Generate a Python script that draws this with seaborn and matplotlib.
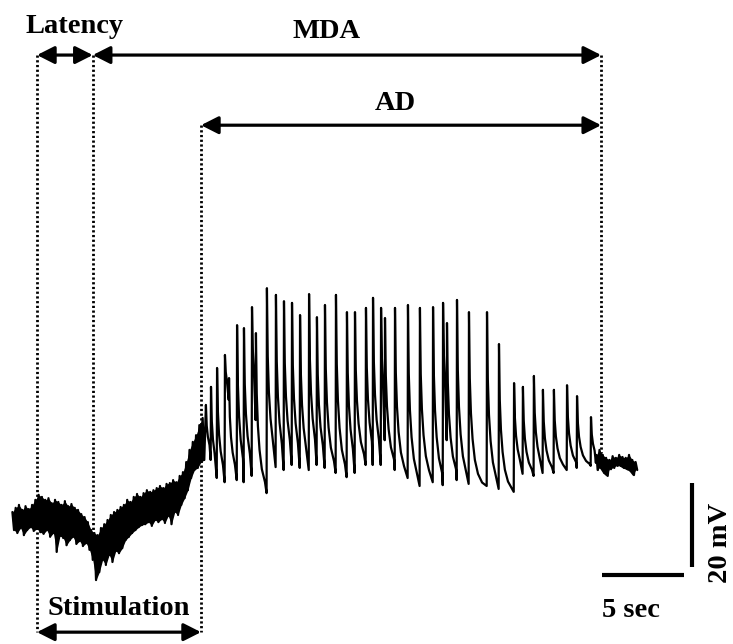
import numpy as np
import pandas as pd
import matplotlib
matplotlib.use("Agg")
import matplotlib.pyplot as plt
import seaborn as sns

# ---- event timing (s) ----
stim_on = 0.0
stim_off = 10.0
latency_end = 3.4
ad_end = 34.4

# ---- noisy baseline before / during stimulation (s, mV envelope) ----
band_t = [-1.5, -1.3, -1.1, -0.9, -0.7, -0.5, -0.3, -0.1, 0.1, 0.3, 0.5, 0.7,
          0.9, 1.1, 1.3, 1.5, 1.7, 1.9, 2.1, 2.3, 2.5, 2.7, 2.9, 3.1, 3.3, 3.5,
          3.7, 3.9, 4.1, 4.3, 4.5, 4.7, 4.9, 5.1, 5.3, 5.5, 5.7, 5.9, 6.1, 6.3,
          6.5, 6.7, 6.9, 7.1, 7.3, 7.5, 7.7, 7.9, 8.1, 8.3, 8.5, 8.7, 8.9, 9.1,
          9.3, 9.5, 9.7, 9.9, 10.1]
band_hi = [1.9, 2.9, 3.6, 2.4, 3.3, 2.6, 3.6, 4.8, 6.0, 5.5, 4.8, 5.2,
           4.0, 4.8, 4.3, 3.6, 4.5, 3.3, 3.8, 2.9, 2.4, 1.4, 0.7, -0.5, -2.4, -3.1,
           -3.6, -1.9, -1.0, 0.0, 1.2, 1.9, 2.4, 3.1, 3.6, 4.8, 4.3, 5.5, 6.2, 5.5,
           6.4, 7.1, 6.7, 7.1, 7.6, 8.1, 7.6, 8.6, 8.8, 9.5, 9.0, 10.5, 11.4, 13.8,
           16.7, 18.6, 20.2, 22.6, 24.3]
band_lo = [-2.4, -3.1, -1.9, -3.6, -2.4, -1.7, -2.6, -2.1, -2.9, -3.3, -2.4, -4.0,
           -3.1, -7.6, -3.8, -4.3, -6.0, -4.8, -4.0, -5.7, -5.0, -6.2, -5.5, -7.1, -9.5, -14.3,
           -12.4, -9.5, -10.7, -8.3, -10.0, -7.4, -7.9, -6.7, -4.8, -4.0, -3.1, -2.4, -1.7, -1.2,
           -1.0, -0.5, -1.4, 0.0, -0.5, 0.2, -0.7, 1.0, -1.0, 1.9, 1.2, 3.6, 5.2, 7.1,
           10.0, 11.9, 12.4, 13.8, 14.3]

# ---- after-discharge spikes: time (s), peak (mV), trough before next spike (mV) ----
spike_t = [10.30, 10.61, 10.98, 11.46, 11.71, 12.20, 12.62, 13.11, 13.35, 14.02,
           14.57, 15.06, 15.55, 16.04, 16.59, 17.07, 17.56, 18.23, 18.90, 19.39,
           20.06, 20.49, 20.98, 21.22, 21.83, 22.62, 23.35, 24.15, 24.76, 25.00,
           25.61, 26.34, 27.44, 28.17, 29.09, 29.63, 30.30, 30.85, 31.52, 32.32,
           32.93, 33.78]
spike_peak = [27.4, 31.7, 36.2, 39.3, 33.8, 46.4, 45.7, 50.7, 44.5, 55.2,
              53.6, 52.1, 51.7, 48.8, 53.8, 48.3, 51.2, 53.6, 49.5, 49.5,
              50.5, 52.9, 50.5, 48.1, 50.5, 51.2, 50.5, 50.7, 51.7, 46.9,
              52.4, 49.5, 49.5, 41.9, 32.6, 31.7, 34.3, 31.0, 31.0, 32.1,
              29.5, 24.5]
spike_trough = [14.3, 10.0, 9.0, 28.6, 9.5, 9.0, 10.5, 23.8, 6.4, 12.6,
                11.9, 13.1, 12.4, 11.9, 13.1, 12.4, 11.2, 10.2, 11.2, 13.1,
                13.1, 13.1, 19.0, 11.9, 10.0, 8.1, 9.0, 8.3, 19.0, 9.5,
                8.6, 8.1, 7.4, 6.7, 11.0, 10.5, 11.2, 11.2, 11.9, 12.4,
                12.9, 13.6]

# ---- noisy baseline after the discharge (s, mV envelope) ----
tail_t = [34.1, 34.3, 34.5, 34.7, 34.9, 35.1, 35.3, 35.5, 35.7, 35.9, 36.1, 36.3, 36.5]
tail_hi = [15.5, 16.7, 15.5, 14.8, 14.3, 15.2, 14.8, 15.5, 15.0, 14.8, 15.5, 14.3, 13.8]
tail_lo = [11.9, 12.4, 11.2, 10.5, 12.1, 12.4, 12.9, 12.9, 12.4, 12.1, 11.7, 10.7, 11.9]

# spike waveform: fast repolarisation followed by a slow tail
DECAY_DT = [0.0, 0.05, 0.12, 0.22, 0.36, 0.55, 0.8]
DECAY_FRAC = [1.0, 0.62, 0.42, 0.27, 0.15, 0.07, 0.02]


def zigzag(ts, hi, lo):
    xs, ys = [], []
    for t, h, l in zip(ts, hi, lo):
        xs += [t, t + 0.1]
        ys += [h, l]
    return xs, ys


def spike_train(ts, peaks, troughs, t_end):
    xs, ys = [], []
    nexts = list(ts[1:]) + [t_end]
    for t, pk, tr, tn in zip(ts, peaks, troughs, nexts):
        for dt, f in zip(DECAY_DT, DECAY_FRAC):
            if t + dt < tn - 0.04:
                xs.append(t + dt)
                ys.append(tr + f * (pk - tr))
        xs.append(tn - 0.02)
        ys.append(tr)
    return xs, ys


bx, by = zigzag(band_t, band_hi, band_lo)
sx, sy = spike_train(spike_t, spike_peak, spike_trough, tail_t[0])
tx, ty = zigzag(tail_t, tail_hi, tail_lo)

trace = pd.DataFrame({"time": bx + sx + tx, "mV": by + sy + ty})

sns.set_theme(style="white")
plt.rcParams["font.family"] = ["Liberation Serif", "DejaVu Serif"]
plt.rcParams["font.weight"] = "bold"
plt.rcParams["text.color"] = "black"

fig = plt.figure(figsize=(7.33, 6.44), dpi=100)
ax = fig.add_axes([0, 0, 1, 1])

# solid core of the noisy baseline segments
lo_shift = [t + 0.1 for t in band_t]
ax.fill_between(band_t, band_hi, [0.5 * (a + b) for a, b in zip(band_hi, band_lo)],
                color="black", lw=0)
ax.fill_between(lo_shift, [0.5 * (a + b) for a, b in zip(band_hi, band_lo)], band_lo,
                color="black", lw=0)
ax.fill_between(tail_t, tail_hi, tail_lo, color="black", lw=0)

sns.lineplot(data=trace, x="time", y="mV", sort=False, estimator=None,
             color="black", lw=1.6, ax=ax)

ax.set_xlim(-2.256, 42.44)
ax.set_ylim(-29.52, 123.81)
ax.set_axis_off()

# arrow levels (mV)
y_mda = 110.7
y_ad = 94.0
y_stim = -26.7

dot = dict(color="black", lw=2.0, linestyle=(0, (0.8, 0.9)))
ax.plot([stim_on, stim_on], [y_mda, y_stim], **dot)
ax.plot([latency_end, latency_end], [y_mda, -4.0], **dot)
ax.plot([stim_off, stim_off], [y_ad, y_stim], **dot)
ax.plot([ad_end, ad_end], [y_mda, 16.0], **dot)

arrow = dict(arrowstyle="<|-|>,head_length=0.75,head_width=0.38",
             color="black", lw=2.3, mutation_scale=14, shrinkA=0, shrinkB=0)
for a, b, y in [(stim_on, latency_end, y_mda), (latency_end, ad_end, y_mda),
                (stim_off, ad_end, y_ad), (stim_on, stim_off, y_stim)]:
    ax.annotate("", xy=(b, y), xytext=(a, y), arrowprops=arrow)

fs = 20.5
lab = dict(fontsize=fs, fontweight="bold", color="black")
ax.text(2.26, 116.0, "Latency", ha="center", va="baseline", **lab)
ax.text(17.68, 114.8, "MDA", ha="center", va="baseline", **lab)
ax.text(21.83, 97.6, "AD", ha="center", va="baseline", **lab)
ax.text(5.0, -22.6, "Stimulation", ha="center", va="baseline", **lab)

# scale bars: 5 s and 20 mV
ax.plot([34.45, 39.45], [-13.1, -13.1], color="black", lw=3.0, solid_capstyle="butt")
ax.plot([39.94, 39.94], [-11.2, 8.8], color="black", lw=3.0, solid_capstyle="butt")
ax.text(34.45, -23.1, "5 sec", ha="left", va="baseline", **lab)
ax.text(41.65, -5.5, "20 mV", ha="center", va="center", rotation=90, **lab)

fig.savefig("out.png", dpi=100)
